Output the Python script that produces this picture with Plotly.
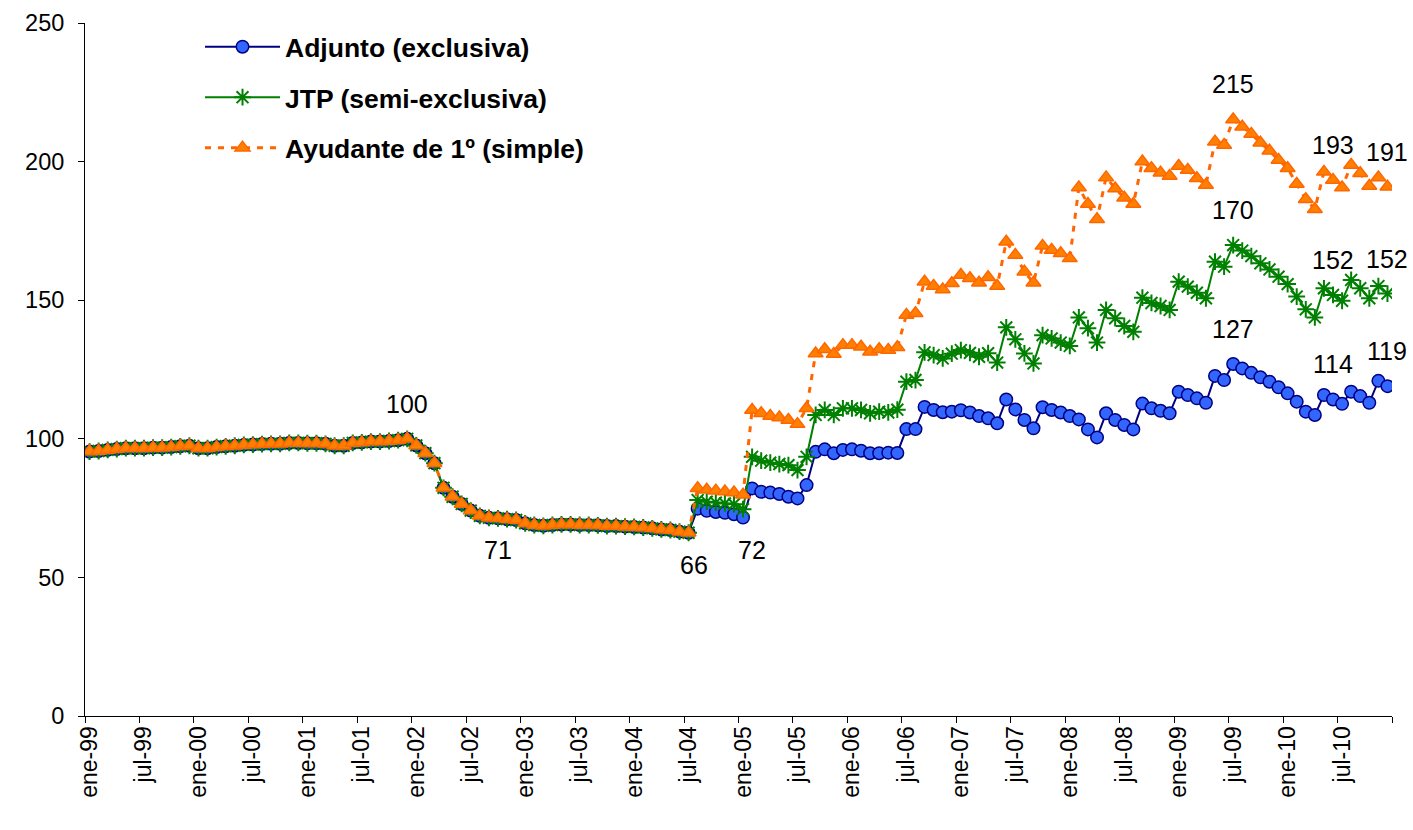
import plotly.graph_objects as go

month_abbr = ["ene", "feb", "mar", "abr", "may", "jun", "jul", "ago", "sep", "oct", "nov", "dic"]
years = ["99", "00", "01", "02", "03", "04", "05", "06", "07", "08", "09", "10"]
months = [f"{m}-{y}" for y in years for m in month_abbr]

adjunto = [
    95.4, 95.6, 96.0, 96.3, 96.6, 96.6, 96.6, 96.8, 96.8, 97.0, 97.3, 97.5,
    96.6, 96.6, 97.0, 97.3, 97.5, 97.8, 97.9, 98.1, 98.2, 98.2, 98.5, 98.5,
    98.4, 98.4, 98.2, 97.5, 97.5, 98.5, 98.7, 99.0, 99.0, 99.2, 99.5, 100.0,
    97.6, 94.8, 91.2, 82.3, 79.1, 76.5, 74.1, 72.2, 71.5, 71.3, 71.0, 70.7,
    69.5, 68.9, 68.6, 68.9, 69.1, 69.1, 68.9, 68.9, 68.8, 68.5, 68.5, 68.3,
    68.2, 68.0, 67.7, 67.3, 67.1, 66.5, 66.1, 74.8, 74.0, 73.6, 73.3, 72.8,
    71.6, 82.1, 80.9, 80.6, 80.1, 79.1, 78.5, 83.3, 95.3, 96.2, 94.8, 96.0,
    96.2, 95.7, 94.8, 94.8, 95.0, 94.9, 103.5, 103.5, 111.5, 110.4, 109.6, 109.8,
    110.3, 109.5, 108.2, 107.4, 105.6, 114.2, 110.6, 106.8, 103.8, 111.4, 110.4, 109.5,
    108.2, 107.0, 103.4, 100.5, 109.2, 106.8, 105.0, 103.4, 112.7, 111.0, 110.1, 109.2,
    117.0, 115.8, 114.6, 113.0, 122.7, 121.2, 127.0, 125.4, 123.8, 122.2, 120.6, 118.6,
    116.4, 113.4, 109.8, 108.6, 115.8, 114.2, 112.6, 117.0, 115.4, 113.0, 120.9, 119.0,
]

jtp = [
    95.4, 95.6, 96.0, 96.3, 96.6, 96.6, 96.6, 96.8, 96.8, 97.0, 97.3, 97.5,
    96.6, 96.6, 97.0, 97.3, 97.5, 97.8, 97.9, 98.1, 98.2, 98.2, 98.5, 98.5,
    98.4, 98.4, 98.2, 97.5, 97.5, 98.5, 98.7, 99.0, 99.0, 99.2, 99.5, 100.0,
    97.6, 94.8, 91.2, 82.3, 79.1, 76.5, 74.1, 72.2, 71.5, 71.3, 71.0, 70.7,
    69.5, 68.9, 68.6, 68.9, 69.1, 69.1, 68.9, 68.9, 68.8, 68.5, 68.5, 68.3,
    68.2, 68.0, 67.7, 67.3, 67.1, 66.5, 66.1, 77.9, 77.3, 77.0, 76.7, 76.4,
    74.6, 93.5, 92.1, 91.4, 90.9, 90.5, 88.7, 93.5, 108.6, 110.4, 108.6, 111.0,
    111.0, 110.4, 109.2, 109.8, 109.5, 110.5, 120.6, 121.2, 131.2, 130.2, 129.0, 130.7,
    132.0, 131.0, 129.6, 130.9, 127.5, 140.2, 135.9, 130.8, 127.2, 137.4, 136.2, 134.7,
    133.5, 143.8, 139.9, 134.7, 146.5, 143.5, 140.7, 138.6, 150.9, 149.0, 147.9, 146.5,
    156.7, 154.9, 152.7, 150.7, 163.9, 162.1, 169.9, 167.9, 165.9, 163.3, 161.1, 158.5,
    155.8, 151.3, 146.7, 143.8, 154.3, 151.9, 149.8, 157.3, 154.3, 150.7, 155.1, 152.4,
]

ayudante = [
    95.4, 95.6, 96.0, 96.3, 96.6, 96.6, 96.6, 96.8, 96.8, 97.0, 97.3, 97.5,
    96.6, 96.6, 97.0, 97.3, 97.5, 97.8, 97.9, 98.1, 98.2, 98.2, 98.5, 98.5,
    98.4, 98.4, 98.2, 97.5, 97.5, 98.5, 98.7, 99.0, 99.0, 99.2, 99.5, 100.0,
    97.6, 94.8, 91.2, 82.3, 79.1, 76.5, 74.1, 72.2, 71.5, 71.3, 71.0, 70.7,
    69.5, 68.9, 68.6, 68.9, 69.1, 69.1, 68.9, 68.9, 68.8, 68.5, 68.5, 68.3,
    68.2, 68.0, 67.7, 67.3, 67.1, 66.5, 66.1, 82.2, 81.6, 81.3, 81.0, 80.6,
    79.8, 110.4, 109.2, 108.2, 107.7, 106.8, 105.3, 111.0, 130.8, 132.3, 130.6, 133.8,
    133.8, 133.2, 131.4, 132.3, 132.0, 133.0, 144.7, 145.3, 156.7, 155.1, 153.9, 156.1,
    159.1, 157.9, 156.3, 158.3, 155.1, 171.1, 166.3, 160.3, 156.3, 169.6, 168.1, 166.9,
    165.1, 190.7, 184.7, 179.2, 194.3, 190.3, 187.0, 184.7, 200.0, 197.6, 196.0, 194.8,
    198.4, 197.0, 194.0, 191.6, 207.2, 206.0, 215.2, 212.6, 210.0, 206.8, 203.9, 200.6,
    197.6, 191.9, 186.4, 182.8, 196.3, 193.4, 190.7, 198.8, 195.8, 191.2, 194.3, 190.9,
]

series_names = ["Adjunto (exclusiva)", "JTP (semi-exclusiva)", "Ayudante de 1º (simple)"]

# (series, month index, position above/below, horizontal nudge)
label_points = [
    ("adj", 35, "above", 0), ("adj", 45, "below", 0), ("adj", 66, "below", 5),
    ("adj", 72, "below", 9),
    ("adj", 126, "above", 0), ("jtp", 126, "above", 0), ("ayu", 126, "above", 0),
    ("adj", 137, "above", 0), ("jtp", 137, "above", 0), ("ayu", 137, "above", 0),
    ("adj", 143, "above", 0), ("jtp", 143, "above", 0), ("ayu", 143, "above", 0),
]

FONT = "Arial, Liberation Sans, sans-serif"
data_map = {"adj": adjunto, "jtp": jtp, "ayu": ayudante}

fig = go.Figure()
fig.add_trace(go.Scatter(
    x=months, y=adjunto, name=series_names[0], mode="lines+markers", legendgroup="a",
    line=dict(color="#000080", width=2),
    marker=dict(symbol="circle", size=12.5, color="#3366FF", line=dict(color="#000080", width=1.5)),
))
fig.add_trace(go.Scatter(
    x=months, y=jtp, name=series_names[1], mode="lines+markers", legendgroup="b",
    line=dict(color="#008000", width=2),
    marker=dict(symbol="asterisk-open", size=14, color="#008000", line=dict(color="#008000", width=2)),
))
fig.add_trace(go.Scatter(
    x=months, y=ayudante, name=series_names[2], mode="lines+markers", legendgroup="c",
    line=dict(color="#FF6600", width=3, dash="6px,7px"),
    marker=dict(symbol="triangle-up", size=13, color="#FF8000", line=dict(color="#FF6600", width=1.5)),
))

annotations = []
for key, idx, pos, dx in label_points:
    val = data_map[key][idx]
    annotations.append(dict(
        x=months[idx], y=val, xref="x", yref="y", text=f"{round(val)}",
        showarrow=False, xshift=dx, yshift=35 if pos == "above" else -32,
        font=dict(family=FONT, size=25, color="black"),
    ))

fig.update_layout(
    width=1413, height=830,
    margin=dict(l=85, r=21, t=23, b=114),
    paper_bgcolor="white", plot_bgcolor="white",
    font=dict(family=FONT, color="black"),
    showlegend=True,
    legend=dict(
        x=0.088, y=1.0, xanchor="left", yanchor="top", itemwidth=75,
        font=dict(family=FONT, size=26.5, color="black", weight="bold"),
        bgcolor="rgba(0,0,0,0)", tracegroupgap=13, traceorder="grouped",
    ),
    annotations=annotations,
)
fig.update_xaxes(
    type="category", range=[-0.5, 143.5], tickmode="linear", tick0=0, dtick=6,
    tickson="boundaries", ticks="outside", ticklen=6, tickcolor="black", automargin=False,
    showline=True, linecolor="black", linewidth=1, showgrid=False, zeroline=False,
    tickangle=-90, tickfont=dict(family=FONT, size=23, color="black"),
)
fig.update_yaxes(
    range=[0, 250], tickmode="linear", tick0=0, dtick=50, automargin=False,
    ticks="outside", ticklen=6, tickcolor="black", ticklabelstandoff=9,
    showline=True, linecolor="black", linewidth=1, showgrid=False, zeroline=False,
    tickfont=dict(family=FONT, size=23.5, color="black"),
)

fig.write_html(
    "out.html",
    config={"displayModeBar": False},
    post_script="document.body.style.margin='0';document.body.style.overflow='hidden';",
)
